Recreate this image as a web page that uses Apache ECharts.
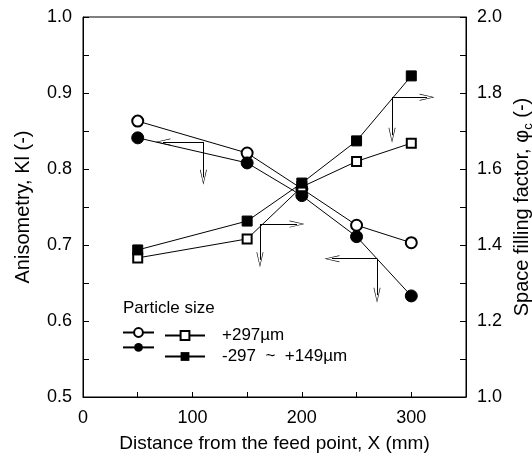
<!DOCTYPE html>
<html><head><meta charset="utf-8">
<script src="https://cdn.jsdelivr.net/npm/echarts@6/dist/echarts.min.js"></script>
<style>html,body{margin:0;padding:0;background:#fff}#c{width:532px;height:457px}</style>
</head><body><div id="c"></div>
<script>
// Data
const xValues = [50, 150, 200, 250, 300];
const kiCoarse = [0.863, 0.821, 0.774, 0.726, 0.703];   // +297 µm, open circles (left axis)
const kiFine   = [0.841, 0.808, 0.765, 0.711, 0.633];   // -297~+149 µm, filled circles (left axis)
const phiCoarse = [1.366, 1.416, 1.553, 1.620, 1.668];  // +297 µm, open squares (right axis)
const phiFine   = [1.387, 1.463, 1.563, 1.674, 1.845];  // -297~+149 µm, filled squares (right axis)
const legendLabels = ['+297\u00b5m', '-297  ~  +149\u00b5m'];
// arrow annotations: [start x, start y, horizontal end x, vertical end y]
const kiArrows = [[110, 0.8355, 73, 0.789], [268.7, 0.682, 227.5, 0.634]];
const phiArrows = [[161.7, 1.455, 195.6, 1.361], [282.4, 1.789, 314.4, 1.689]];

const FONT = "'Liberation Sans', Arial, sans-serif";
const arrowPath = 'path://M5,0 L0,20 L1,20 L5,3 L9,20 L10,20 Z';
function arrowLines(arr) {
  const out = [];
  arr.forEach(a => {
    out.push([{coord: [a[0], a[1]]}, {coord: [a[2], a[1]]}]);
    out.push([{coord: [a[0], a[1]]}, {coord: [a[0], a[3]]}]);
  });
  return out;
}
function mk(arr) {
  return {
    silent: true, symbol: ['none', arrowPath], symbolSize: [7, 15],
    label: {show: false},
    lineStyle: {color: '#000', width: 1, type: 'solid'},
    emphasis: {disabled: true},
    data: arrowLines(arr)
  };
}
function pair(xs, ys) { return xs.map((x, i) => [x, ys[i]]); }

const chart = echarts.init(document.getElementById('c'), null, {renderer: 'canvas'});
const base = {type: 'line', lineStyle: {color: '#000', width: 1}, itemStyle: {color: '#000', borderColor: '#000'}, animation: false, z: 3};
chart.setOption({
  backgroundColor: '#fff',
  animation: false,
  textStyle: {fontFamily: FONT, color: '#000'},
  grid: {left: 83, right: 66, top: 17, bottom: 60, show: true, borderColor: '#000', borderWidth: 1, containLabel: false, outerBoundsMode: 'none'},
  title: {text: 'Particle size', left: 118, top: 295, textStyle: {fontFamily: FONT, fontSize: 17, fontWeight: 'normal', color: '#000'}},
  legend: [
    {data: ['KI ' + legendLabels[0], 'KI ' + legendLabels[1]], orient: 'vertical', left: 117, top: 322,
     itemWidth: 31, itemHeight: 11, itemGap: 4, formatter: () => '', selectedMode: false,
     textStyle: {fontSize: 17}},
    {data: ['PHI ' + legendLabels[0], 'PHI ' + legendLabels[1]], orient: 'vertical', left: 159, top: 322,
     itemWidth: 40, itemHeight: 11, itemGap: 4, selectedMode: false,
     formatter: n => n.replace(/^PHI /, ''),
     textStyle: {fontFamily: FONT, fontSize: 17, color: '#000', padding: [0, 0, 0, 12]}}
  ],
  xAxis: {
    type: 'value', min: 0, max: 350, interval: 50,
    name: 'Distance from the feed point, X (mm)', nameLocation: 'middle', nameGap: 37,
    nameTextStyle: {fontFamily: FONT, fontSize: 19, color: '#000'},
    axisLine: {lineStyle: {color: '#000', width: 1}},
    axisTick: {inside: true, length: 5, lineStyle: {color: '#000'}},
    axisLabel: {fontFamily: FONT, fontSize: 18, color: '#000', margin: 12,
      formatter: v => (v % 100 === 0 && v < 350) ? String(v) : ''},
    splitLine: {show: false}
  },
  yAxis: [
    {type: 'value', min: 0.5, max: 1.0, interval: 0.05, position: 'left',
     name: 'Anisometry, Kl (-)', nameLocation: 'middle', nameGap: 50, nameRotate: 90,
     nameTextStyle: {fontFamily: FONT, fontSize: 20, color: '#000'},
     axisLine: {show: true, lineStyle: {color: '#000'}},
     axisTick: {inside: true, length: 6, lineStyle: {color: '#000'}},
     axisLabel: {fontFamily: FONT, fontSize: 18, color: '#000', margin: 11,
       formatter: v => Math.abs(v * 10 - Math.round(v * 10)) < 1e-6 ? v.toFixed(1) : ''},
     splitLine: {show: false}},
    {type: 'value', min: 1.0, max: 2.0, interval: 0.1, position: 'right',
     name: '{a|Space filling factor, \u03c6}{s|c}{a| (-)}', nameLocation: 'middle', nameGap: 33, nameRotate: 90,
     nameTextStyle: {fontFamily: FONT, fontSize: 20, color: '#000',
       rich: {a: {fontFamily: FONT, fontSize: 20, color: '#000'}, s: {fontFamily: FONT, fontSize: 13, color: '#000', verticalAlign: 'bottom', padding: [10, 0, 0, 0]}}},
     axisLine: {show: true, lineStyle: {color: '#000'}},
     axisTick: {inside: true, length: 6, lineStyle: {color: '#000'}},
     axisLabel: {fontFamily: FONT, fontSize: 18, color: '#000', margin: 11,
       formatter: v => (Math.round(v * 10) % 2 === 0) ? v.toFixed(1) : ''},
     splitLine: {show: false}}
  ],
  series: [
    Object.assign({}, base, {name: 'KI ' + legendLabels[0], yAxisIndex: 0, symbol: 'emptyCircle', symbolSize: 11, data: pair(xValues, kiCoarse), markLine: mk(kiArrows)}),
    Object.assign({}, base, {name: 'KI ' + legendLabels[1], yAxisIndex: 0, symbol: 'circle', symbolSize: 12, data: pair(xValues, kiFine)}),
    Object.assign({}, base, {name: 'PHI ' + legendLabels[0], yAxisIndex: 1, symbol: 'emptyRect', symbolSize: 9, data: pair(xValues, phiCoarse), markLine: mk(phiArrows)}),
    Object.assign({}, base, {name: 'PHI ' + legendLabels[1], yAxisIndex: 1, symbol: 'rect', symbolSize: 10, data: pair(xValues, phiFine)})
  ]
});
</script></body></html>
